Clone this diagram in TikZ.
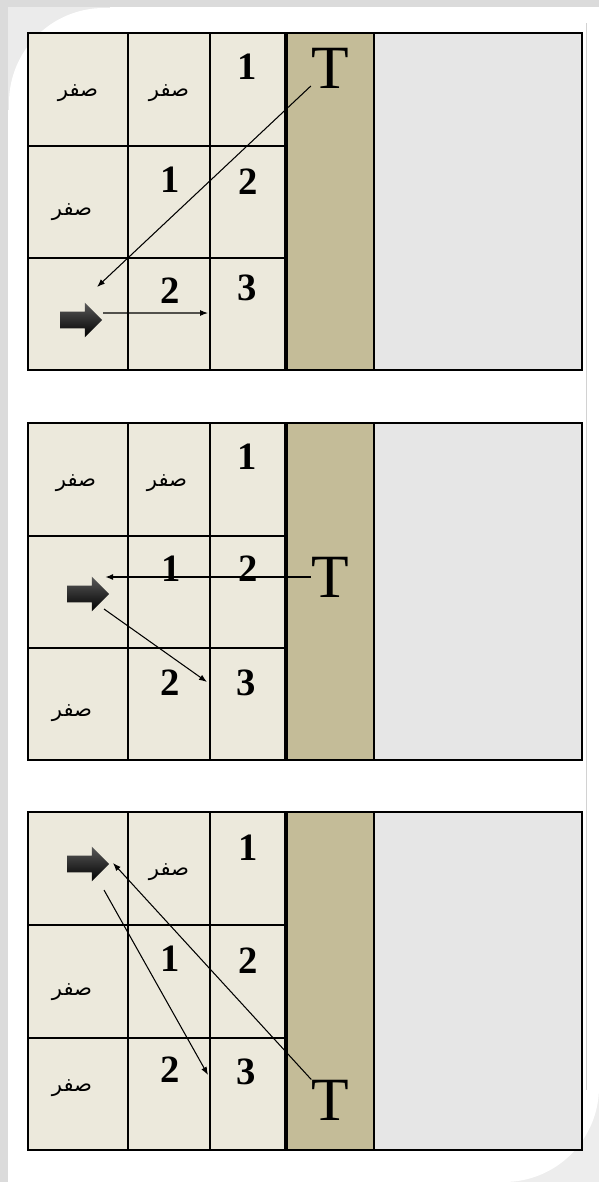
\documentclass[tikz,border=0pt]{standalone}
\usepackage{fontspec}
\setmainfont{Liberation Serif}
\newfontfamily\arabicfont[Script=Arabic]{DejaVu Sans}
\TeXXeTstate=1
\usepackage{tikz}
\usetikzlibrary{arrows.meta,positioning,calc,shapes.arrows}
\definecolor{cellbg}{HTML}{ECE9DC}
\definecolor{tanbar}{HTML}{C4BC98}
\definecolor{greyarea}{HTML}{E6E6E6}
\newcommand{\sifr}{\beginR صفر\endR}
\tikzset{
  zero/.style={font=\arabicfont\fontsize{12}{12}\selectfont, inner sep=0pt},
  digit/.style={font=\fontsize{22}{22}\selectfont\bfseries, inner sep=0pt},
  tlab/.style={font=\fontsize{35}{35}\selectfont, inner sep=0pt},
  pointer/.style={single arrow, draw=none, top color=black!65, bottom color=black,
                  minimum height=8.4mm, single arrow head extend=1.8mm,
                  inner xsep=0pt, inner ysep=1.6mm},
  conn/.style={-{Latex[length=1.6mm,width=1.2mm]}, line width=0.6pt},
  cellline/.style={line width=0.8pt},
  border/.style={line width=1.2pt},
}
\begin{document}
\begin{tikzpicture}[x=0.2mm, y=-0.2mm]
    \useasboundingbox (0,0) rectangle (599,1182);
    % page and card
    \fill[white] (0,0) rectangle (599,1182);
    \fill[gray!28] (0,0) rectangle (599,7);
    \fill[gray!28] (0,0) rectangle (8,1182);
    \fill[gray!16] (8,7) rectangle (110,110);
    \fill[gray!14] (500,1080) rectangle (599,1182);
    \fill[white, rounded corners=19mm] (9,1182) -- (9,8) -- (599,8) -- (599,1182) -- cycle;
    \draw[gray!35, line width=0.5pt] (586,23) -- (586,1090);

    % panel 1
    \fill[cellbg] (28,33) rectangle (286,370);
    \fill[tanbar] (286,33) rectangle (374,370);
    \fill[greyarea] (374,33) rectangle (582,370);
    \draw[cellline] (128,33) -- (128,370) (210,33) -- (210,370)
                    (28,146) -- (286,146) (28,258) -- (286,258) (374,33) -- (374,370);
    \draw[line width=2.4pt] (286,33) -- (286,370);
    \draw[border] (28,33) rectangle (582,370);
    \node[zero] (z11) at (78,93) {\sifr};
    \node[zero] (z12) at (169,93) {\sifr};
    \node[digit] (d13) at (247,67) {1};
    \node[zero] (z21) at (72,212) {\sifr};
    \node[digit] (d22) at (170,180) {1};
    \node[digit] (d23) at (248,182) {2};
    \node[pointer] (ptr1) at (77,320) {};
    \node[digit] (d32) at (170,291) {2};
    \node[digit] (d33) at (247,288) {3};
    \node[tlab] (T1) at (330,68) {T};
    \coordinate (tip1) at (97,287);
    \coordinate (end1) at (208,313);
    \draw[conn] (T1) -- (tip1);
    \draw[conn] ([xshift=5.2mm,yshift=1.4mm]ptr1.center) -- (end1);

    % panel 2
    \fill[cellbg] (28,423) rectangle (286,760);
    \fill[tanbar] (286,423) rectangle (374,760);
    \fill[greyarea] (374,423) rectangle (582,760);
    \draw[cellline] (128,423) -- (128,760) (210,423) -- (210,760)
                    (28,536) -- (286,536) (28,648) -- (286,648) (374,423) -- (374,760);
    \draw[line width=2.4pt] (286,423) -- (286,760);
    \draw[border] (28,423) rectangle (582,760);
    \node[zero] (z11b) at (76,483) {\sifr};
    \node[zero] (z12b) at (167,483) {\sifr};
    \node[digit] (d13b) at (247,457) {1};
    \node[pointer] (ptr2) at (84,594) {};
    \node[digit] (d22b) at (171,569) {1};
    \node[digit] (d23b) at (248,569) {2};
    \node[zero] (z31b) at (72,713) {\sifr};
    \node[digit] (d32b) at (170,683) {2};
    \node[digit] (d33b) at (246,683) {3};
    \node[tlab] (T2) at (330,577) {T};
    \coordinate (tip2) at (105,577);
    \coordinate (end2) at (207,682);
    \draw[conn, line width=1pt] (T2) -- (tip2);
    \draw[conn] ([xshift=4mm,yshift=-3mm]ptr2.center) -- (end2);

    % panel 3
    \fill[cellbg] (28,812) rectangle (286,1150);
    \fill[tanbar] (286,812) rectangle (374,1150);
    \fill[greyarea] (374,812) rectangle (582,1150);
    \draw[cellline] (128,812) -- (128,1150) (210,812) -- (210,1150)
                    (28,925) -- (286,925) (28,1038) -- (286,1038) (374,812) -- (374,1150);
    \draw[line width=2.4pt] (286,812) -- (286,1150);
    \draw[border] (28,812) rectangle (582,1150);
    \node[pointer] (ptr3) at (84,864) {};
    \node[zero] (z12c) at (169,872) {\sifr};
    \node[digit] (d13c) at (248,848) {1};
    \node[zero] (z21c) at (72,992) {\sifr};
    \node[digit] (d22c) at (170,959) {1};
    \node[digit] (d23c) at (248,961) {2};
    \node[zero] (z31c) at (72,1088) {\sifr};
    \node[digit] (d32c) at (170,1070) {2};
    \node[digit] (d33c) at (246,1072) {3};
    \node[tlab] (T3) at (330,1100) {T};
    \coordinate (tip3) at (113,863);
    \coordinate (end3) at (208,1075);
    \draw[conn] (T3) -- (tip3);
    \draw[conn] ([xshift=4mm,yshift=-5.2mm]ptr3.center) -- (end3);
  \end{tikzpicture}
\end{document}
